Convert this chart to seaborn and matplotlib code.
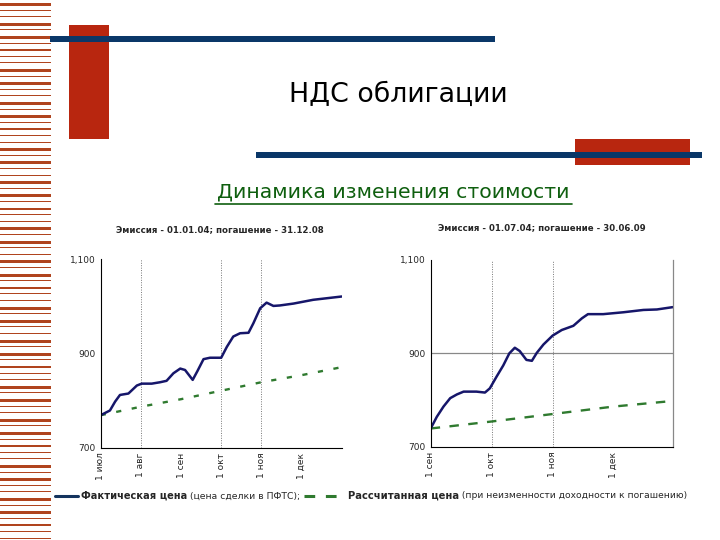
import matplotlib
matplotlib.use("Agg")
import matplotlib.pyplot as plt
from matplotlib.lines import Line2D
from matplotlib.patches import Rectangle
from matplotlib.ticker import FixedLocator, FuncFormatter
import seaborn as sns
import pandas as pd

# ---------------- data ----------------
left_title = "Эмиссия - 01.01.04; погашение - 31.12.08"
right_title = "Эмиссия - 01.07.04; погашение - 30.06.09"

left_ticks = ["1 июл", "1 авг", "1 сен", "1 окт", "1 ноя", "1 дек"]
right_ticks = ["1 сен", "1 окт", "1 ноя", "1 дек"]

# months since first tick
left_actual_x = [0, 0.23, 0.36, 0.48, 0.69, 0.90, 1.02, 1.27, 1.48, 1.64, 1.81, 1.98, 2.10,
                 2.29, 2.41, 2.56, 2.72, 3.0, 3.14, 3.30, 3.47, 3.68, 3.80, 3.97, 4.13,
                 4.30, 4.46, 4.80, 5.29, 6.0]
left_actual_y = [769, 779, 798, 812, 815, 832, 836, 836, 839, 842, 858, 868, 865,
                 844, 863, 888, 891, 891, 914, 936, 943, 944, 964, 996, 1008,
                 1001, 1002, 1006, 1014, 1021]
left_calc_x = [0, 1, 2, 3, 4, 5, 6]
left_calc_y = [769, 787, 803, 821, 839, 854, 871]

right_actual_x = [0, 0.10, 0.21, 0.32, 0.43, 0.54, 0.75, 0.89, 0.97, 1.08, 1.19, 1.29, 1.38,
                  1.46, 1.57, 1.66, 1.74, 1.85, 2.0, 2.15, 2.34, 2.48, 2.58, 2.83, 3.16,
                  3.49, 3.71, 3.97]
right_actual_y = [739, 764, 786, 804, 812, 818, 818, 816, 825, 850, 874, 900, 912,
                  905, 886, 884, 901, 919, 938, 950, 959, 975, 984, 984, 988,
                  993, 994, 999]
right_calc_x = [0, 1, 2, 3, 3.97]
right_calc_y = [739, 754, 770, 786, 798]

y_ticks = [700, 900, 1100]

legend_a_bold = "Фактическая цена"
legend_a_note = " (цена сделки в ПФТС);"
legend_b_bold = "Рассчитанная цена"
legend_b_note = " (при неизменности доходности к погашению)"

# ---------------- style ----------------
sns.set_style("white")
plt.rcParams["font.family"] = ["DejaVu Sans"]

NAVY = "#16166a"
GREEN = "#2f7a2f"
RUST = "#b0441e"
RED = "#b8260f"
BLUE = "#0a3768"

W, H = 720, 540
fig = plt.figure(figsize=(7.2, 5.4), dpi=100)
fig.patch.set_facecolor("white")


def fx(px):
    return px / W


def fy(py):
    return 1 - py / H


# ---------------- slide decorations ----------------
pattern = [3, 1, 1, 3, 1, 3, 1, 2, 1, 1, 3, 1]
y = 3
i = 0
while y < H:
    t = pattern[i % len(pattern)]
    fig.patches.append(Rectangle((0, fy(y + t)), fx(51), t / H, transform=fig.transFigure,
                                 color=RUST, lw=0))
    y += 6.6
    i += 1

fig.patches.append(Rectangle((fx(69), fy(139)), fx(40), (139 - 25) / H,
                             transform=fig.transFigure, color=RED, lw=0))
fig.patches.append(Rectangle((fx(50), fy(42)), fx(445), 6 / H,
                             transform=fig.transFigure, color=BLUE, lw=0))
fig.patches.append(Rectangle((fx(575), fy(165)), fx(115), 26 / H,
                             transform=fig.transFigure, color=RED, lw=0))
fig.patches.append(Rectangle((fx(256), fy(158)), fx(446), 6 / H,
                             transform=fig.transFigure, color=BLUE, lw=0))

fig.text(fx(398), fy(95), "НДС облигации", ha="center", va="center", fontsize=19.3, color="black")
fig.text(fx(393), fy(192), "Динамика изменения стоимости", ha="center", va="center",
         fontsize=14.7, color="#0f5f0f")
fig.lines.append(Line2D([fx(215), fx(572)], [fy(204), fy(204)], transform=fig.transFigure,
                        color="#0f5f0f", lw=1.2))

fig.text(fx(220), fy(230), left_title, ha="center", va="center", fontsize=6.2, weight="bold")
fig.text(fx(542), fy(228), right_title, ha="center", va="center", fontsize=6.2, weight="bold")

# ---------------- axes ----------------
axL = fig.add_axes([fx(100.7), fy(447.7), fx(241), 188.4 / H])
axR = fig.add_axes([fx(430.7), fy(446.7), fx(242), 186.7 / H])


def draw(ax, ax_x, ax_y, c_x, c_y, ticks, xmax, vgrid, hgrid, dash):
    da = pd.DataFrame({"m": ax_x, "v": ax_y})
    dc = pd.DataFrame({"m": c_x, "v": c_y})
    for g in vgrid:
        ax.axvline(g, color="#777777", lw=0.7, ls=(0, (1, 1.5)), zorder=0)
    for g in hgrid:
        ax.axhline(g, color="#888888", lw=0.9, zorder=0)
    sns.lineplot(data=dc, x="m", y="v", ax=ax, color=GREEN, lw=1.7, dashes=False,
                 linestyle=dash)
    sns.lineplot(data=da, x="m", y="v", ax=ax, color=NAVY, lw=1.8)
    ax.set_xlim(0, xmax)
    ax.set_ylim(700, 1100)
    ax.set_xlabel("")
    ax.set_ylabel("")
    ax.xaxis.set_major_locator(FixedLocator(list(range(len(ticks)))))
    ax.set_xticklabels(ticks, rotation=90, fontsize=6.5)
    ax.yaxis.set_major_locator(FixedLocator(y_ticks))
    ax.yaxis.set_major_formatter(FuncFormatter(lambda v, p: f"{int(v):,}"))
    ax.tick_params(axis="y", labelsize=6.5, length=3, width=0.8, direction="inout", pad=2)
    ax.tick_params(axis="x", length=3, width=0.8, direction="inout", pad=2)
    ax.spines["top"].set_visible(False)
    ax.spines["left"].set_color("black")
    ax.spines["bottom"].set_color("black")
    ax.spines["left"].set_linewidth(0.8)
    ax.spines["bottom"].set_linewidth(0.8)
    ax.set_facecolor("white")


draw(axL, left_actual_x, left_actual_y, left_calc_x, left_calc_y, left_ticks, 6.0,
     [1, 3, 4], [], (0, (2.2, 4.5)))
axL.spines["right"].set_visible(False)
draw(axR, right_actual_x, right_actual_y, right_calc_x, right_calc_y, right_ticks, 3.97,
     [1, 2], [900], (0, (4, 4)))
axR.spines["right"].set_color("#888888")
axR.spines["right"].set_linewidth(0.9)

# ---------------- legend ----------------
ly = fy(496)
fig.lines.append(Line2D([fx(55), fx(78)], [ly, ly], transform=fig.transFigure,
                        color="#14345e", lw=2.2))
renderer = fig.canvas.get_renderer()
t1 = fig.text(fx(81), ly, legend_a_bold, ha="left", va="center", fontsize=7.1, weight="bold")
bb = t1.get_window_extent(renderer)
t2 = fig.text(bb.x1 / W, ly, legend_a_note, ha="left", va="center", fontsize=6.7)
bb = t2.get_window_extent(renderer)
x0 = bb.x1 + 4
fig.lines.append(Line2D([x0 / W, (x0 + 36) / W], [ly, ly], transform=fig.transFigure,
                        color=GREEN, lw=2.2, ls=(0, (3.5, 3.5))))
t3 = fig.text((x0 + 44) / W, ly, legend_b_bold, ha="left", va="center", fontsize=7.2,
              weight="bold")
bb = t3.get_window_extent(renderer)
fig.text(bb.x1 / W, ly, legend_b_note, ha="left", va="center", fontsize=6.6)

fig.savefig("out.png", dpi=100, facecolor="white")
